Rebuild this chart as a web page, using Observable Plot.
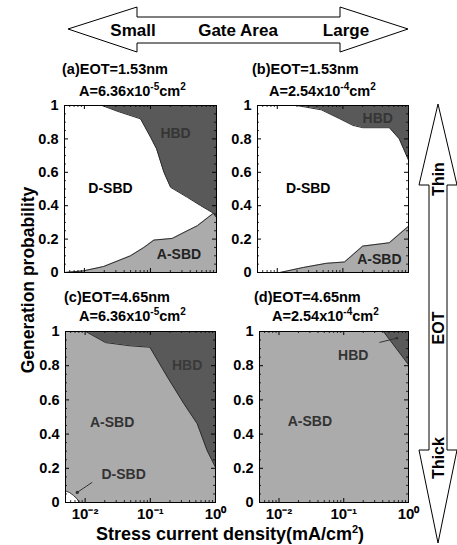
<!DOCTYPE html>
<html><head><meta charset="utf-8">
<script src="https://cdn.jsdelivr.net/npm/d3@7"></script>
<script src="https://cdn.jsdelivr.net/npm/@observablehq/plot@0.6"></script>
<style>
body{margin:0;background:#fff;}
#wrap{position:relative;width:457px;height:545px;overflow:hidden;background:#fff;font-family:"Liberation Sans",Arial,sans-serif;}
#wrap > svg{position:absolute;}
</style></head><body><div id="wrap"></div>
<script>
// ---------- data ----------
const xDomain = [0.005, 1];
const xTicks = [0.01, 0.1, 1];
const xTickLabels = ["10⁻²", "10⁻¹", "10⁰"];
const xMinorTicks = [0.006, 0.007, 0.008, 0.009, 0.02, 0.03, 0.04, 0.05, 0.06, 0.07, 0.08, 0.09, 0.2, 0.3, 0.4, 0.5, 0.6, 0.7, 0.8, 0.9];
const yTicks = [0, 0.2, 0.4, 0.6, 0.8, 1];
const yMinorTicks = [0.05, 0.1, 0.15, 0.25, 0.3, 0.35, 0.45, 0.5, 0.55, 0.65, 0.7, 0.75, 0.85, 0.9, 0.95];

// (a) EOT=1.53nm, A=6.36e-5
const aHbdX = [0.0185, 0.0313, 0.0708, 0.1005, 0.124, 0.160, 0.202, 0.362, 0.577, 0.9, 1];
const aHbdY = [1, 0.966, 0.92, 0.81, 0.74, 0.60, 0.51, 0.45, 0.40, 0.355, 0.33];
const aAsbdX = [0.005, 0.0098, 0.0196, 0.0499, 0.0796, 0.113, 0.214, 0.322, 0.513, 0.9, 1];
const aAsbdY = [0, 0.01, 0.036, 0.10, 0.15, 0.194, 0.204, 0.24, 0.28, 0.355, 0.33];
// (b) EOT=1.53nm, A=2.54e-4
const bHbdX = [0.0197, 0.047, 0.0893, 0.142, 0.201, 0.51, 0.724, 1];
const bHbdY = [1, 0.974, 0.921, 0.881, 0.867, 0.867, 0.80, 0.673];
const bAsbdX = [0.005, 0.011, 0.0249, 0.0561, 0.106, 0.201, 0.51, 1];
const bAsbdY = [0, 0, 0.03, 0.055, 0.063, 0.158, 0.178, 0.277];
// (c) EOT=4.65nm, A=6.36e-5
const cHbdX = [0.0102, 0.0206, 0.0498, 0.0984, 0.182, 0.327, 0.524, 0.744, 1];
const cHbdY = [1, 0.935, 0.916, 0.908, 0.735, 0.578, 0.461, 0.304, 0.206];
const cDsbdX = [0.005, 0.0058, 0.0066, 0.0075, 0.0082];
const cDsbdY = [0.068, 0.058, 0.042, 0.022, 0];
// (d) EOT=4.65nm, A=2.54e-4
const dHbdX = [0.41, 0.64, 1];
const dHbdY = [1, 0.903, 0.806];

const labelsA = [{text: "HBD", x: 0.24, y: 0.83, c: "#353535"}, {text: "D-SBD", x: 0.0248, y: 0.5, c: "#000"}, {text: "A-SBD", x: 0.27, y: 0.11, c: "#222"}];
const labelsB = [{text: "HBD", x: 0.34, y: 0.92, c: "#353535"}, {text: "D-SBD", x: 0.0297, y: 0.505, c: "#000"}, {text: "A-SBD", x: 0.36, y: 0.075, c: "#222"}];
const labelsC = [{text: "HBD", x: 0.367, y: 0.80, c: "#3a3a3a"}, {text: "A-SBD", x: 0.026, y: 0.47, c: "#333"}, {text: "D-SBD", x: 0.039, y: 0.163, c: "#333"}];
const labelsD = [{text: "HBD", x: 0.14, y: 0.86, c: "#333"}, {text: "A-SBD", x: 0.03, y: 0.476, c: "#333"}];
const pointerC = [{x1: 0.01285, y1: 0.118, x2: 0.00757, y2: 0.059}];
const pointerD = [{x1: 0.355, y1: 0.936, x2: 0.659, y2: 0.961}];

// ---------- drawing ----------
const HBD = "#595959", ASBD = "#ababab", DSBD = "#ffffff", EDGE = "#2e2e2e";
const pts = (xs, ys) => xs.map((x, i) => ({x, y: ys[i]}));
const wrap = document.getElementById("wrap");

function panel({left, top, fw, fh, bg, marks, labels, showX}) {
  const mL = 50, mR = 6, mT = 6, mB = 34;
  const svg = Plot.plot({
    width: fw + mL + mR, height: fh + mT + mB,
    marginLeft: mL, marginRight: mR, marginTop: mT, marginBottom: mB,
    x: {type: "log", domain: xDomain, axis: null},
    y: {domain: [0, 1], axis: null},
    color: {type: "identity"},
    style: {fontFamily: "'Liberation Sans', Arial, sans-serif", fontWeight: "bold", fontSize: "14px", background: "transparent", color: "#000", overflow: "visible"},
    marks: [
      Plot.frame({fill: bg, stroke: null}),
      ...marks,
      Plot.text(labels, {x: "x", y: "y", text: "text", fill: "c", fontSize: 14, fontWeight: "bold"}),
      Plot.tickX(xMinorTicks, {x: d => d, insetTop: fh - 2, stroke: "#000", strokeWidth: 0.8}),
      Plot.tickX(xMinorTicks, {x: d => d, insetBottom: fh - 2, stroke: "#000", strokeWidth: 0.8}),
      Plot.tickX(xTicks, {x: d => d, insetTop: fh - 4, stroke: "#000"}),
      Plot.tickX(xTicks, {x: d => d, insetBottom: fh - 4, stroke: "#000"}),
      Plot.tickY(yMinorTicks, {y: d => d, insetRight: fw - 2, stroke: "#000", strokeWidth: 0.8}),
      Plot.tickY(yMinorTicks, {y: d => d, insetLeft: fw - 2, stroke: "#000", strokeWidth: 0.8}),
      Plot.tickY(yTicks, {y: d => d, insetRight: fw - 4, stroke: "#000"}),
      Plot.tickY(yTicks, {y: d => d, insetLeft: fw - 4, stroke: "#000"}),
      Plot.axisY(yTicks, {label: null, tickSize: 0, tickPadding: 6, tickFormat: d3.format("~g"), fontSize: 14.5, fontWeight: "bold"}),
      ...(showX ? [Plot.axisX(xTicks, {label: null, tickSize: 0, tickPadding: 6, tickFormat: d => xTickLabels[xTicks.indexOf(d)], fontSize: 15, fontWeight: "bold"})] : []),
      Plot.frame({stroke: "#000", strokeWidth: 1})
    ]
  });
  svg.style.left = (left - mL) + "px";
  svg.style.top = (top - mT) + "px";
  wrap.appendChild(svg);
}

const hbdArea = (xs, ys) => [
  Plot.areaY(pts(xs, ys), {x: "x", y1: "y", y2: 1, fill: HBD}),
  Plot.line(pts(xs, ys), {x: "x", y: "y", stroke: EDGE, strokeWidth: 1})
];
const lowArea = (xs, ys, fill) => [
  Plot.areaY(pts(xs, ys), {x: "x", y1: 0, y2: "y", fill}),
  Plot.line(pts(xs, ys), {x: "x", y: "y", stroke: EDGE, strokeWidth: 1})
];

panel({left: 64, top: 105, fw: 152, fh: 167, bg: DSBD, labels: labelsA, showX: false,
  marks: [...lowArea(aAsbdX, aAsbdY, ASBD), ...hbdArea(aHbdX, aHbdY)]});
panel({left: 257, top: 105, fw: 151, fh: 167, bg: DSBD, labels: labelsB, showX: false,
  marks: [...lowArea(bAsbdX, bAsbdY, ASBD), ...hbdArea(bHbdX, bHbdY)]});
panel({left: 65, top: 331, fw: 150, fh: 171, bg: ASBD, labels: labelsC, showX: true,
  marks: [...lowArea(cDsbdX, cDsbdY, DSBD), ...hbdArea(cHbdX, cHbdY),
    Plot.link(pointerC, {x1: "x1", y1: "y1", x2: "x2", y2: "y2", stroke: "#333", strokeWidth: 1}),
    Plot.dot(pointerC, {x: "x2", y: "y2", r: 1.6, fill: "#333", stroke: null})]});
panel({left: 259, top: 331, fw: 149, fh: 171, bg: ASBD, labels: labelsD, showX: true,
  marks: [...hbdArea(dHbdX, dHbdY),
    Plot.link(pointerD, {x1: "x1", y1: "y1", x2: "x2", y2: "y2", stroke: "#333", strokeWidth: 1}),
    Plot.dot(pointerD, {x: "x2", y: "y2", r: 1.4, fill: "#333", stroke: null})]});

// ---------- annotations (arrows, titles, axis labels) ----------
const ov = d3.select(wrap).append("svg").attr("width", 457).attr("height", 545)
  .style("left", "0px").style("top", "0px").style("pointer-events", "none")
  .attr("font-family", "'Liberation Sans', Arial, sans-serif").attr("font-weight", "bold");

ov.append("polygon")
  .attr("points", "68,29 137,7 137,17 340,17 340,7 408,29 340,52 340,43 137,43 137,52")
  .attr("fill", "#fff").attr("stroke", "#000").attr("stroke-width", 1);
[["Small", 133], ["Gate Area", 238], ["Large", 346]].forEach(([t, x]) =>
  ov.append("text").attr("x", x).attr("y", 36).attr("text-anchor", "middle").attr("font-size", 17).text(t));

ov.append("polygon")
  .attr("points", "438,104 457,185 447,185 447,450 457,450 438,543 419,450 429,450 429,185 419,185")
  .attr("fill", "#fff").attr("stroke", "#000").attr("stroke-width", 1);
[["Thin", 179], ["EOT", 328], ["Thick", 458]].forEach(([t, y]) =>
  ov.append("text").attr("transform", `translate(444,${y}) rotate(-90)`).attr("text-anchor", "middle")
    .attr("font-size", 16).text(t));

function title(x, y, main) {
  ov.append("text").attr("x", x).attr("y", y).attr("font-size", 14.5).text(main);
}
function areaTitle(x, y, num, exp) {
  const t = ov.append("text").attr("x", x).attr("y", y).attr("font-size", 14.5);
  t.append("tspan").text(`A=${num}x10`);
  t.append("tspan").attr("dy", -6).attr("font-size", 10).text(exp);
  t.append("tspan").attr("dy", 6).attr("font-size", 14.5).text("cm");
  t.append("tspan").attr("dy", -6).attr("font-size", 10).text("2");
}
title(62, 74, "(a)EOT=1.53nm"); areaTitle(79, 96, "6.36", "-5");
title(252, 74, "(b)EOT=1.53nm"); areaTitle(269, 96, "2.54", "-4");
title(64, 302, "(c)EOT=4.65nm"); areaTitle(79, 321, "6.36", "-5");
title(254, 302, "(d)EOT=4.65nm"); areaTitle(272, 321, "2.54", "-4");

ov.append("text").attr("transform", "translate(34,280) rotate(-90)").attr("text-anchor", "middle")
  .attr("font-size", 17.5).text("Generation probability");
const xl = ov.append("text").attr("x", 230).attr("y", 540).attr("text-anchor", "middle").attr("font-size", 18);
xl.append("tspan").text("Stress current density(mA/cm");
xl.append("tspan").attr("dy", -7).attr("font-size", 11).text("2");
xl.append("tspan").attr("dy", 7).attr("font-size", 18).text(")");
</script></body></html>
